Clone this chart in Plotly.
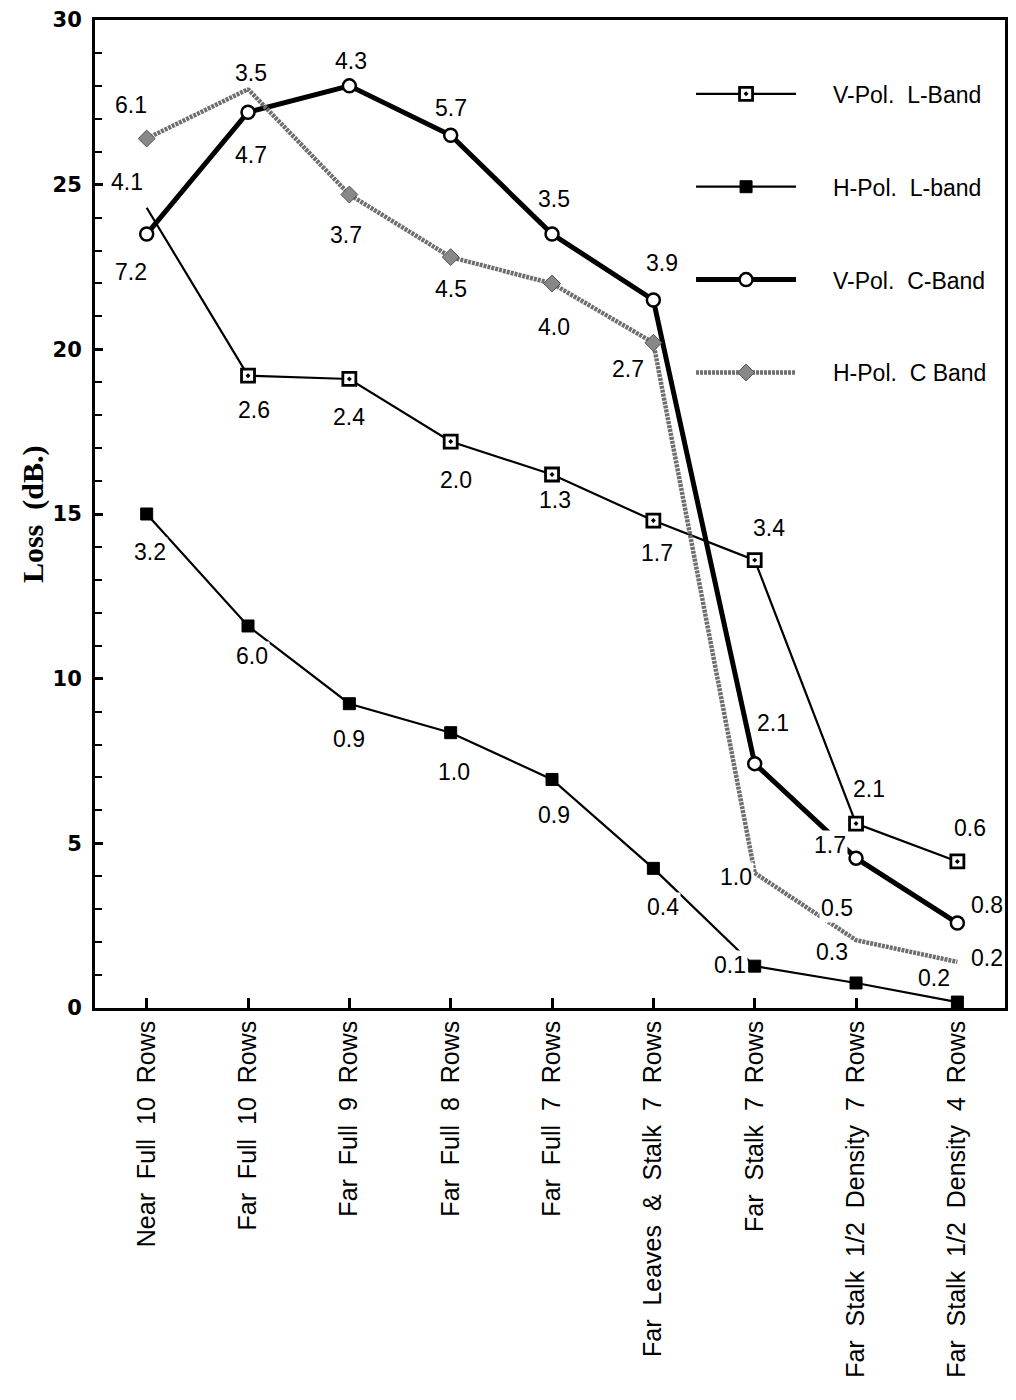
import plotly.graph_objects as go

categories = [
    "Near  Full  10  Rows",
    "Far  Full  10  Rows",
    "Far  Full  9  Rows",
    "Far  Full  8  Rows",
    "Far  Full  7  Rows",
    "Far  Leaves  &  Stalk  7  Rows",
    "Far  Stalk  7  Rows",
    "Far  Stalk  1/2  Density  7  Rows",
    "Far  Stalk  1/2  Density  4  Rows",
]

series_names = ["V-Pol.  L-Band", "H-Pol.  L-band", "V-Pol.  C-Band", "H-Pol.  C Band"]

vpol_l = [24.3, 19.2, 19.1, 17.2, 16.2, 14.8, 13.6, 5.6, 4.45]
hpol_l = [15.0, 11.6, 9.24, 8.36, 6.94, 4.24, 1.27, 0.76, 0.18]
vpol_c = [23.5, 27.2, 28.0, 26.5, 23.5, 21.5, 7.42, 4.55, 2.58]
hpol_c = [26.4, 27.9, 24.7, 22.8, 22.0, 20.2, 4.1, 2.06, 1.4]

vpol_l_sd = ["4.1", "2.6", "2.4", "2.0", "1.3", "1.7", "3.4", "2.1", "0.6"]
hpol_l_sd = ["3.2", "6.0", "0.9", "1.0", "0.9", "0.4", "0.1", "0.3", "0.2"]
vpol_c_sd = ["7.2", "4.7", "4.3", "5.7", "3.5", "3.9", "2.1", "1.7", "0.8"]
hpol_c_sd = ["6.1", "3.5", "3.7", "4.5", "4.0", "2.7", "1.0", "0.5", "0.2"]

y_ticks = [0, 5, 10, 15, 20, 25, 30]

# label offsets (pixels) relative to each point: (dx, dy) with dy positive = down
vpol_l_off = [(-20, -26), (6, 34), (0, 38), (5, 38), (3, 26), (4, 32), (14, -32), (13, -35), (13, -33)]
hpol_l_off = [(3, 38), (4, 30), (0, 35), (3, 39), (2, 36), (10, 39), (-25, -1), (-24, -31), (-23, -24)]
vpol_c_off = [(-16, 38), (3, 43), (2, -25), (0, -27), (2, -35), (9, -37), (18, -41), (-26, -13), (30, -18)]
hpol_c_off = [(-16, -34), (3, -16), (-3, 40), (0, 32), (2, 44), (-25, 26), (-19, 4), (-19, -32), (30, -4)]

# indices of points whose marker is visible in the figure
vpol_l_shown = [1, 2, 3, 4, 5, 6, 7, 8]
hpol_c_shown = [0, 2, 3, 4, 5]

fig = go.Figure()

x = list(range(len(categories)))
pad = "\u00a0" * 5
hidden = dict(marker=dict(opacity=0))

fig.add_trace(go.Scatter(
    x=x, y=vpol_l, name=pad + series_names[0], mode="lines+markers",
    line=dict(color="black", width=2.2),
    marker=dict(symbol="square-dot", size=13, color="white",
                line=dict(color="black", width=2.8)),
    selectedpoints=vpol_l_shown, unselected=hidden,
    legendgroup="a",
))
fig.add_trace(go.Scatter(
    x=x, y=hpol_l, name=pad + series_names[1], mode="lines+markers",
    line=dict(color="black", width=2.2),
    marker=dict(symbol="square", size=12, color="black",
                line=dict(color="black", width=1)),
    legendgroup="b",
))
fig.add_trace(go.Scatter(
    x=x, y=vpol_c, name=pad + series_names[2], mode="lines+markers",
    line=dict(color="black", width=5),
    marker=dict(symbol="circle", size=13, color="white",
                line=dict(color="black", width=2.5)),
    legendgroup="c",
))
fig.add_trace(go.Scatter(
    x=x, y=hpol_c, name=pad + series_names[3], mode="lines+markers",
    line=dict(color="#6e6e6e", width=4.5, dash="3px,1px"),
    marker=dict(symbol="diamond", size=13, color="#888888",
                line=dict(color="#555555", width=1)),
    selectedpoints=hpol_c_shown, unselected=hidden,
    legendgroup="d",
))

annotations = []
for vals, sds, offs in [(vpol_l, vpol_l_sd, vpol_l_off), (hpol_l, hpol_l_sd, hpol_l_off),
                        (vpol_c, vpol_c_sd, vpol_c_off), (hpol_c, hpol_c_sd, hpol_c_off)]:
    for i, (v, s, o) in enumerate(zip(vals, sds, offs)):
        annotations.append(dict(
            x=i, y=v, xref="x", yref="y", text=s, showarrow=False,
            xshift=o[0], yshift=-o[1],
            font=dict(family="Liberation Sans, Arial", size=23, color="black"),
            bgcolor="white", borderpad=1,
        ))

annotations.append(dict(
    text="<b>Loss  (dB.)</b>", xref="paper", yref="paper", x=-0.068, y=0.5,
    xanchor="center", yanchor="middle", textangle=-90, showarrow=False,
    font=dict(family="Liberation Serif, Times New Roman", size=30, color="black"),
))

fig.update_layout(
    width=1016, height=1400,
    margin=dict(l=95, r=8, t=18, b=392),
    paper_bgcolor="white", plot_bgcolor="white",
    showlegend=True,
    legend=dict(
        x=0.655, y=0.947, xanchor="left", yanchor="top",
        font=dict(family="Liberation Sans, Arial", size=23, color="black"),
        traceorder="grouped", tracegroupgap=60,
        itemwidth=100, bgcolor="rgba(0,0,0,0)",
    ),
    annotations=annotations,
)

fig.update_xaxes(
    range=[-0.51, 8.47], tickmode="array", tickvals=x, ticktext=categories,
    tickangle=-90, ticks="inside", ticklen=10, tickwidth=2.5, tickcolor="black",
    showline=True, linewidth=2.5, linecolor="black", mirror=True,
    showgrid=False, zeroline=False,
    tickfont=dict(family="Liberation Sans, Arial", size=25, color="black"),
)
fig.update_yaxes(
    range=[0, 30], tickmode="array", tickvals=y_ticks,
    ticks="inside", ticklen=8, tickwidth=2.5, tickcolor="black",
    minor=dict(dtick=1, ticks="inside", ticklen=7, tickwidth=2, tickcolor="black"),
    showline=True, linewidth=3, linecolor="black", mirror=True,
    showgrid=False, zeroline=False, ticklabelstandoff=6,
    tickfont=dict(family="DejaVu Sans", size=21, color="black", weight="bold"),
)

fig.write_html("out.html")
